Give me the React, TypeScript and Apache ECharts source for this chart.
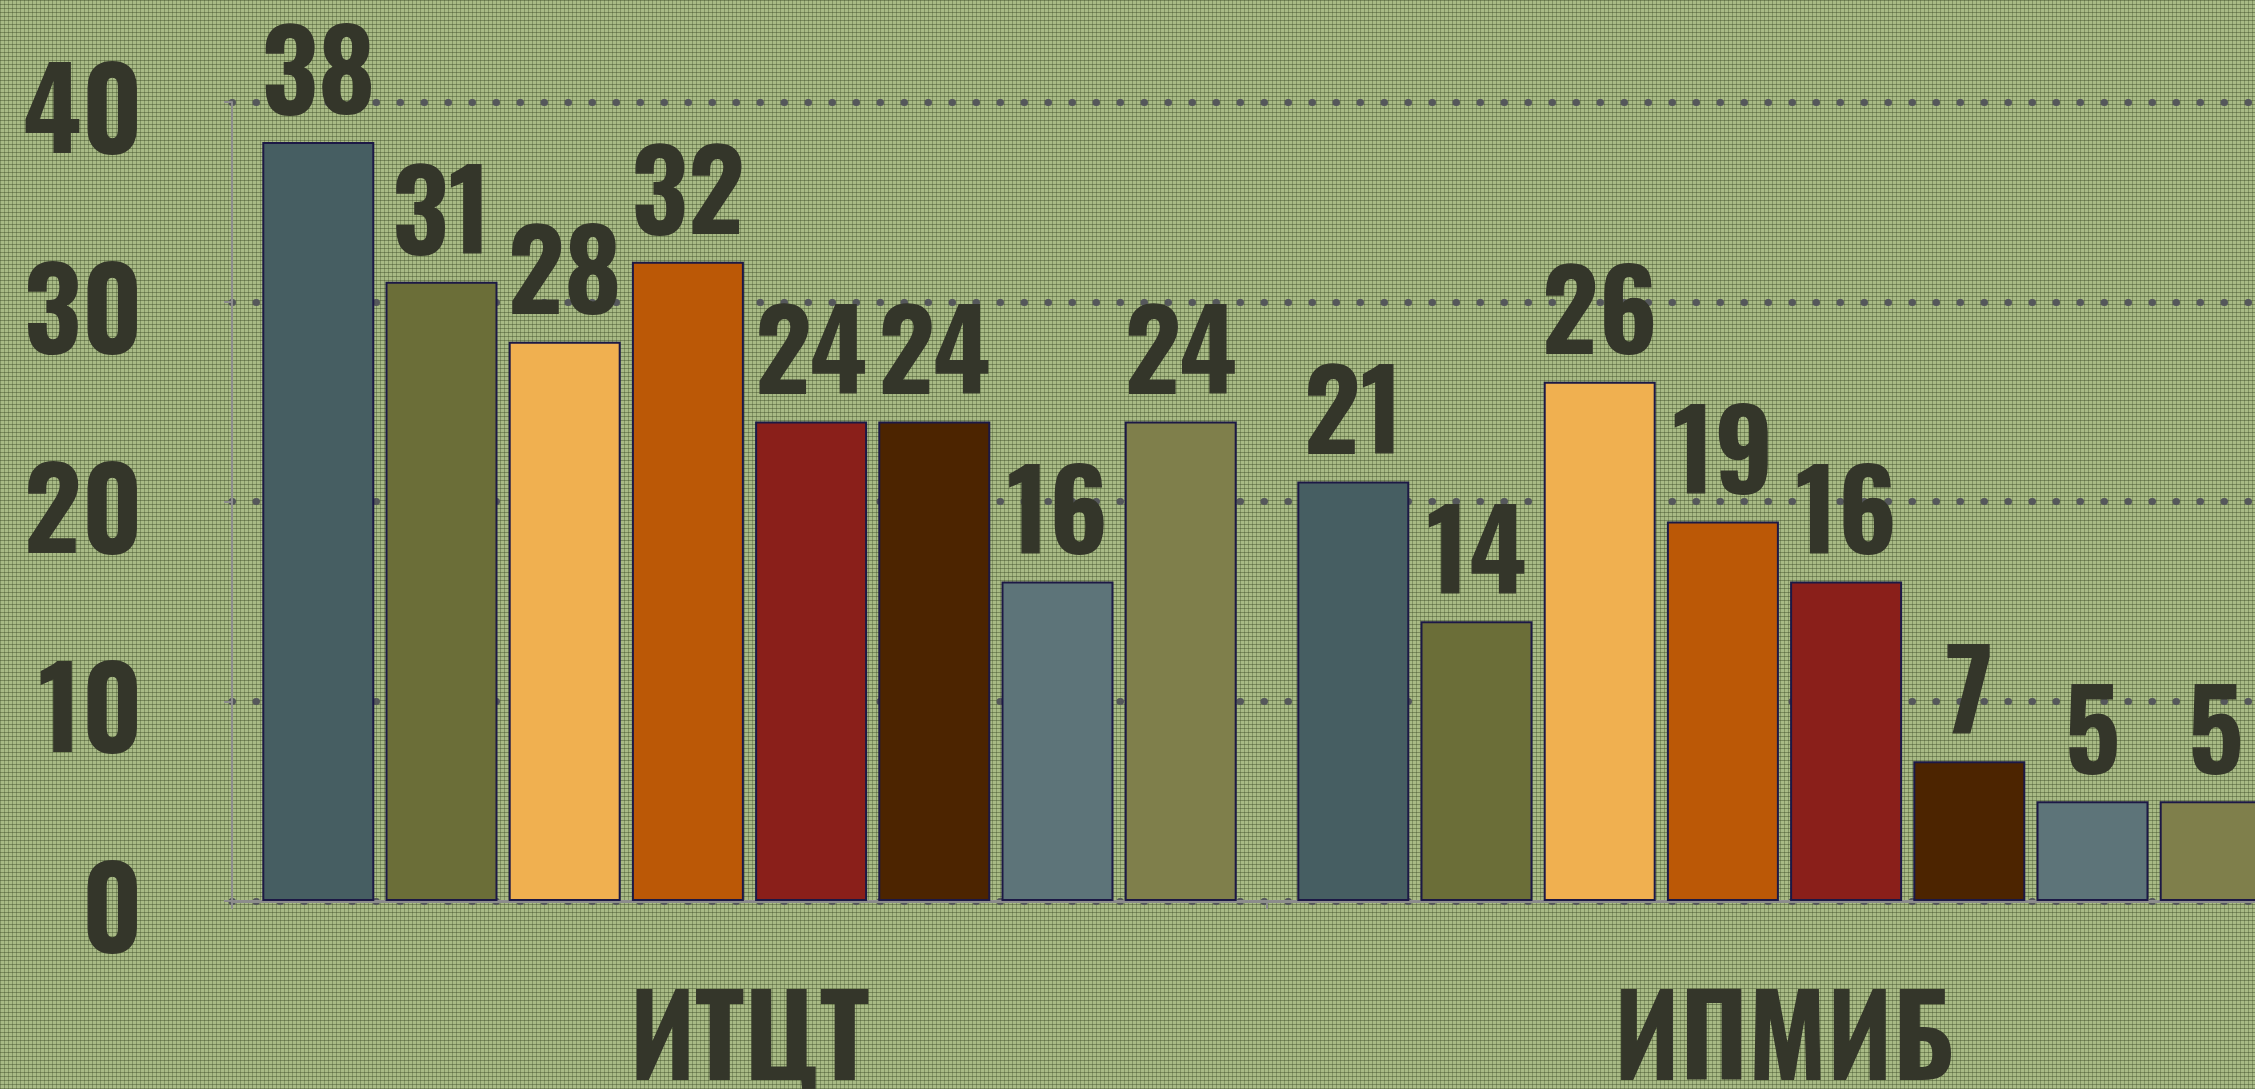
import React, { useEffect, useRef } from "react";
import * as echarts from "echarts";

const categories = ["ИТЦТ", "ИПМИБ"];
const seriesNames = ["Ряд 1", "Ряд 2", "Ряд 3", "Ряд 4", "Ряд 5", "Ряд 6", "Ряд 7", "Ряд 8"];
const itctValues = [38, 31, 28, 32, 24, 24, 16, 24];
const ipmibValues = [21, 14, 26, 19, 16, 7, 5, 5];
const barColors = ["#465e62", "#6b6e38", "#f0b050", "#bb5806", "#8a1f1a", "#4c2400", "#5d7479", "#7f7f4b"];
const yTicks = { min: 0, max: 40, interval: 10 };

const FONT = "Oswald, 'Roboto Condensed', sans-serif";
const TEXT_COLOR = "#34362a";

export default function App() {
  const ref = useRef<HTMLDivElement>(null);
  useEffect(() => {
    if (!ref.current) return;
    const chart = echarts.init(ref.current, null, { renderer: "svg" });
    const series = seriesNames.map((name, i) => ({
      name,
      type: "bar",
      data: [itctValues[i], ipmibValues[i]],
      barWidth: 112,
      barGap: "10%",
      itemStyle: { color: barColors[i], borderColor: "#1c1845", borderWidth: 2 },
      label: {
        show: true,
        position: "top",
        distance: 22,
        fontFamily: FONT,
        fontWeight: "bold",
        fontSize: 110,
        lineHeight: 110,
        color: TEXT_COLOR,
      },
    }));
    chart.setOption({
      animation: false,
      backgroundColor: "transparent",
      grid: { left: 232, right: 0, top: 102, bottom: 188, containLabel: false },
      xAxis: {
        type: "category",
        data: categories,
        axisLine: { lineStyle: { color: "#8c8c8c", width: 3 } },
        axisTick: { show: true, length: 8, lineStyle: { color: "#8c8c8c", width: 2 } },
        axisLabel: {
          margin: 72,
          fontFamily: FONT,
          fontWeight: "bold",
          fontSize: 112,
          lineHeight: 112,
          color: TEXT_COLOR,
        },
      },
      yAxis: {
        type: "value",
        min: yTicks.min,
        max: yTicks.max,
        interval: yTicks.interval,
        axisLine: { show: true, lineStyle: { color: "#8c8c8c", width: 2 } },
        axisTick: { show: true, length: 8, lineStyle: { color: "#8c8c8c", width: 2 } },
        axisLabel: {
          margin: 89,
          fontFamily: FONT,
          fontWeight: "bold",
          fontSize: 112,
          lineHeight: 112,
          padding: [0, 0, 12, 0],
          color: TEXT_COLOR,
        },
        splitLine: {
          show: true,
          lineStyle: { color: "#55575b", width: 7, type: [0.5, 23.5], cap: "round" },
        },
      },
      series,
    });
    return () => chart.dispose();
  }, []);

  const bg: React.CSSProperties = {
    position: "fixed",
    left: 0,
    top: 0,
    width: 2255,
    height: 1089,
    overflow: "hidden",
    backgroundColor: "#a8ba85",
    backgroundImage:
      "repeating-linear-gradient(0deg, rgba(50,65,30,0.4) 0px, rgba(50,65,30,0.4) 1px, transparent 1px, transparent 4px)," +
      "repeating-linear-gradient(90deg, rgba(50,65,30,0.32) 0px, rgba(50,65,30,0.32) 1px, transparent 1px, transparent 4px)",
  };
  return (
    <div style={bg}>
      <div ref={ref} style={{ width: 2302, height: 1089 }} />
    </div>
  );
}
